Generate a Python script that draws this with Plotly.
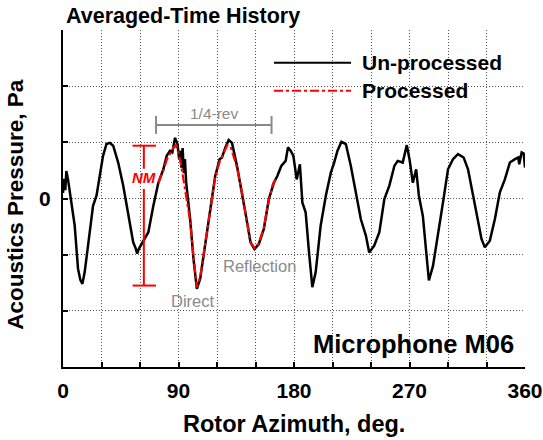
import plotly.graph_objects as go

# Averaged time history of the acoustic pressure over one rotor revolution
azimuth_raw = [
    0, 1.0, 1.8, 2.6, 3.9, 6.5, 9.1, 11.7, 13.5, 15.1, 16.9, 19.5, 21.5, 23.4,
    26.1, 28.6, 31.2, 33.9, 36.5, 39.1, 43.0, 46.9, 50.8, 54.7, 56.5, 57.8,
    59.0, 61.3, 64.0, 66.5, 70.4, 74.3, 78.2, 80.8, 83.4, 85.2, 87.3, 89.2,
    90.5, 91.5, 92.3, 93.2, 94.2, 95.0, 96.0, 99.1, 101.7, 104.3, 106.9, 110.8,
    114.7, 118.6, 120.0, 122.0, 123.9, 126.5, 129.1, 131.7, 135.6, 139.5,
    143.5, 146.1, 149.2, 152.6, 156.5, 160.4, 164.3, 167.0, 170.1, 173.5,
    175.3, 177.4, 179.5, 182.1, 184.6, 186.5, 189.1, 191.7, 194.3, 196.9,
    200.8, 204.8, 208.7, 211.3, 213.9, 217.0, 220.4, 224.3, 228.2, 232.1,
    236.0, 238.6, 242.5, 246.5, 250.4, 254.3, 258.2, 260.8, 264.7, 267.9,
    270.0, 272.6, 275.2, 277.3, 280.4, 283.0, 285.1, 288.3, 292.2, 296.1,
    300.0, 303.9, 307.8, 312.2, 315.6, 319.6, 323.5, 326.1, 328.7, 332.6,
    336.5, 340.4, 344.3, 348.2, 352.2, 354.8, 355.5, 357.4, 359.0, 360.0,
]
pressure_raw = [
    0.10, 0.35, 0.15, 0.49, 0.34, -0.07, -0.48, -1.25, -1.45, -1.52, -1.31,
    -0.84, -0.45, -0.13, 0.05, 0.40, 0.76, 0.97, 0.99, 0.94, 0.64, 0.23,
    -0.31, -0.78, -0.88, -0.98, -0.90, -0.81, -0.72, -0.60, -0.13, 0.28, 0.52,
    0.76, 0.85, 0.82, 1.08, 0.97, 0.70, 0.85, 0.55, 0.90, 0.45, 0.70, 0.28,
    -0.37, -1.08, -1.61, -1.43, -0.84, -0.19, 0.40, 0.52, 0.70, 0.73, 0.91,
    1.04, 0.99, 0.58, 0.11, -0.43, -0.78, -0.90, -0.81, -0.54, -0.01, 0.28,
    0.40, 0.58, 0.67, 0.91, 0.85, 0.76, 0.34, 0.61, -0.07, -0.25, -0.96,
    -1.58, -1.31, -0.48, 0.05, 0.46, 0.64, 0.85, 1.01, 0.97, 0.58, 0.11,
    -0.37, -0.66, -0.96, -0.84, -0.60, -0.01, 0.23, 0.58, 0.67, 0.64, 0.95,
    0.70, 0.28, 0.52, 0.05, -0.31, -0.90, -1.46, -1.20, -0.66, -0.07, 0.52,
    0.70, 0.79, 0.73, 0.52, 0.05, -0.43, -0.72, -0.87, -0.75, -0.37, 0.11,
    0.34, 0.64, 0.70, 0.73, 0.61, 0.82, 0.80, 0.55,
]

# Processed signal over the quarter revolution holding direct + reflected pulse
azimuth_proc = [
    74.3, 78.2, 81.0, 84.0, 86.5, 88.0, 90.0, 92.0, 95.0, 99.1, 101.7, 104.3,
    106.9, 110.8, 114.7, 118.6, 122.0, 125.0, 128.0, 130.5, 135.6, 139.5,
    143.5, 146.1, 149.2, 152.6, 156.5, 160.4, 163.5, 166.0,
]
pressure_proc = [
    0.28, 0.50, 0.70, 0.82, 0.92, 0.95, 0.80, 0.60, 0.20, -0.40, -1.05, -1.58,
    -1.40, -0.82, -0.20, 0.38, 0.65, 0.80, 0.95, 0.93, 0.55, 0.10, -0.45,
    -0.78, -0.88, -0.80, -0.52, -0.03, 0.25, 0.36,
]

x_tick_vals = list(range(0, 361, 30))
x_tick_text = ["0", "", "", "90", "", "", "180", "", "", "270", "", "", "360"]
y_tick_vals = [-3, -2, -1, 0, 1, 2, 3]
y_tick_text = ["", "", "", "0", "", "", ""]

FONT = "Liberation Sans"
GRAY = "#8a8a8a"

fig = go.Figure()
fig.add_trace(go.Scatter(
    x=azimuth_raw, y=pressure_raw, mode="lines", name="Un-processed",
    line=dict(color="black", width=2.5), showlegend=False,
))
fig.add_trace(go.Scatter(
    x=azimuth_proc, y=pressure_proc, mode="lines", name="Processed",
    line=dict(color="red", width=2.2, dash="dashdot"), showlegend=False,
))

axis_common = dict(
    ticks="inside", ticklen=5, tickwidth=2, tickcolor="black",
    showline=True, linewidth=2, linecolor="black", mirror=False,
    showgrid=True, gridcolor="#555", gridwidth=1, griddash="1px,2px",
    zeroline=False, automargin=False,
    tickfont=dict(family=FONT, size=21, weight="bold", color="black"),
)
fig.update_xaxes(range=[0, 360], tickvals=x_tick_vals, ticktext=x_tick_text,
                 ticklabelstandoff=4, **axis_common)
fig.update_yaxes(range=[-3, 3], tickvals=y_tick_vals, ticktext=y_tick_text,
                 ticklabelstandoff=6, **axis_common)

shapes = []
# legend samples
shapes.append(dict(type="line", xref="paper", yref="paper", x0=0.4567, x1=0.6234,
                   y0=0.903, y1=0.903, line=dict(color="black", width=2)))
shapes.append(dict(type="line", xref="paper", yref="paper", x0=0.4567, x1=0.6234,
                   y0=0.820, y1=0.820, line=dict(color="red", width=2, dash="dashdot")))
# quarter-revolution bracket
rev_a, rev_b, rev_y, cap = 72.5, 162.5, 1.31, 0.16
shapes.append(dict(type="line", x0=rev_a, x1=rev_b, y0=rev_y, y1=rev_y,
                   line=dict(color=GRAY, width=2)))
for xv in (rev_a, rev_b):
    shapes.append(dict(type="line", x0=xv, x1=xv, y0=rev_y - cap, y1=rev_y + cap,
                       line=dict(color=GRAY, width=2)))
# NM peak-to-peak bracket
nm_x, nm_top, nm_bot = 63.0, 0.94, -1.55
for y0, y1 in ((nm_top, 0.53), (0.17, nm_bot)):
    shapes.append(dict(type="line", x0=nm_x, x1=nm_x, y0=y0, y1=y1,
                       line=dict(color="red", width=2)))
for yv in (nm_top, nm_bot):
    shapes.append(dict(type="line", x0=54.2, x1=72.5, y0=yv, y1=yv,
                       line=dict(color="red", width=2)))

annotations = [
    dict(text="Averaged-Time History", xref="paper", yref="paper", x=0.002, y=1.0,
         xanchor="left", yanchor="bottom", showarrow=False,
         font=dict(family=FONT, size=21.5, weight="bold", color="black")),
    dict(text="Un-processed", xref="paper", yref="paper", x=0.6429, y=0.903,
         xanchor="left", yanchor="middle", showarrow=False,
         font=dict(family=FONT, size=21, weight="bold", color="black")),
    dict(text="Processed", xref="paper", yref="paper", x=0.6429, y=0.820,
         xanchor="left", yanchor="middle", showarrow=False,
         font=dict(family=FONT, size=21, weight="bold", color="black")),
    dict(text="Microphone M06", xref="paper", yref="paper", x=0.9805, y=0.068,
         xanchor="right", yanchor="middle", showarrow=False,
         font=dict(family=FONT, size=25.5, weight="bold", color="black")),
    dict(text="Rotor Azimuth, deg.", xref="paper", yref="paper", x=0.5, y=-0.17,
         xanchor="center", yanchor="middle", showarrow=False,
         font=dict(family=FONT, size=23.5, weight="bold", color="black")),
    dict(text="Acoustics Pressure, Pa", xref="paper", yref="paper", x=-0.102, y=0.4837,
         xanchor="center", yanchor="middle", textangle=-90, showarrow=False,
         font=dict(family=FONT, size=22.5, weight="bold", color="black")),
    dict(text="1/4-rev", x=(rev_a + rev_b) / 2, y=1.52, xanchor="center", yanchor="middle",
         showarrow=False, font=dict(family=FONT, size=15.5, color=GRAY)),
    dict(text="<i>NM</i>", x=nm_x, y=0.37, xanchor="center", yanchor="middle",
         showarrow=False, font=dict(family=FONT, size=15, weight="bold", color="red")),
    dict(text="Reflection", x=153.5, y=-1.20, xanchor="center", yanchor="middle",
         showarrow=False, font=dict(family=FONT, size=16.5, color=GRAY)),
    dict(text="Direct", x=101.5, y=-1.83, xanchor="center", yanchor="middle",
         showarrow=False, font=dict(family=FONT, size=16.5, color=GRAY)),
]

fig.update_layout(
    width=543, height=440,
    margin=dict(l=63, r=18, t=30, b=73),
    paper_bgcolor="white", plot_bgcolor="white",
    font=dict(family=FONT, color="black"),
    shapes=shapes, annotations=annotations,
    showlegend=False,
)

fig.write_html("out.html")
